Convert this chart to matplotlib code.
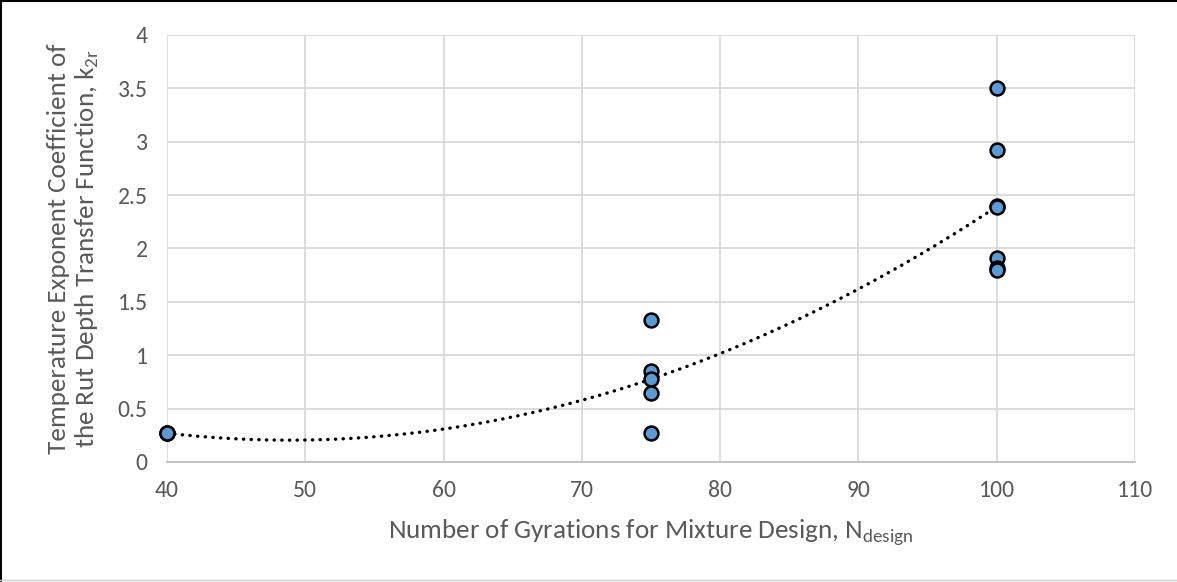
import matplotlib
matplotlib.use("Agg")
import matplotlib.pyplot as plt
import numpy as np

plt.rcParams['font.family'] = ['Carlito', 'Lato', 'DejaVu Sans']

# 数据
n_design = [40, 40, 40,
            75, 75, 75, 75, 75,
            100, 100, 100, 100, 100, 100, 100]
k2r = [0.27, 0.27, 0.27,
       1.33, 0.85, 0.78, 0.65, 0.27,
       3.50, 2.92, 2.40, 2.39, 1.91, 1.82, 1.80]

xticks = [40, 50, 60, 70, 80, 90, 100, 110]
yticks = [0, 0.5, 1, 1.5, 2, 2.5, 3, 3.5, 4]
ytick_labels = ['0', '0.5', '1', '1.5', '2', '2.5', '3', '3.5', '4']

txt_col = '#595959'

fig = plt.figure(figsize=(11.77, 5.82), dpi=100)
ax = fig.add_axes([0.1419, 0.2062, 0.8224, 0.7337])

# 二次多项式趋势线
coef = np.polyfit(n_design, k2r, 2)
xs = np.linspace(min(n_design), max(n_design), 200)
ax.plot(xs, np.polyval(coef, xs), color='black', lw=2.4,
        linestyle=(0, (0.1, 2.2)), dash_capstyle='round', zorder=3)

ax.scatter(n_design, k2r, s=100, facecolor='#5b9bd5', edgecolor='black',
           linewidth=1.8, zorder=4, clip_on=False)

ax.set_xlim(40, 110)
ax.set_ylim(0, 4)
ax.set_xticks(xticks)
ax.set_yticks(yticks, labels=ytick_labels)
ax.grid(True, color='#d9d9d9', lw=1.3, zorder=0)
ax.set_axisbelow(True)
for s in ['top', 'right', 'left']:
    ax.spines[s].set_visible(False)
ax.spines['bottom'].set_color('#bfbfbf')
ax.spines['bottom'].set_linewidth(1.3)
ax.tick_params(length=0, labelsize=17, labelcolor=txt_col)
ax.tick_params(axis='x', pad=13)
ax.tick_params(axis='y', pad=14)

ax.set_xlabel('Number of Gyrations for Mixture Design, N$_{\\mathregular{design}}$',
              fontsize=19.5, color=txt_col, labelpad=12)
ax.set_ylabel('Temperature Exponent Coefficient of\nthe Rut Depth Transfer Function, k$_{\\mathregular{2r}}$',
              fontsize=19.5, color=txt_col, labelpad=12, linespacing=1.15)

# 外框
fig.add_artist(plt.Line2D([0.001, 0.001], [0, 1], color='black', lw=1.5))
fig.add_artist(plt.Line2D([0, 1], [0.998, 0.998], color='black', lw=1.5))
fig.add_artist(plt.Line2D([0, 1], [0.003, 0.003], color='#d0d0d0', lw=1))

fig.savefig('out.png', dpi=100)
